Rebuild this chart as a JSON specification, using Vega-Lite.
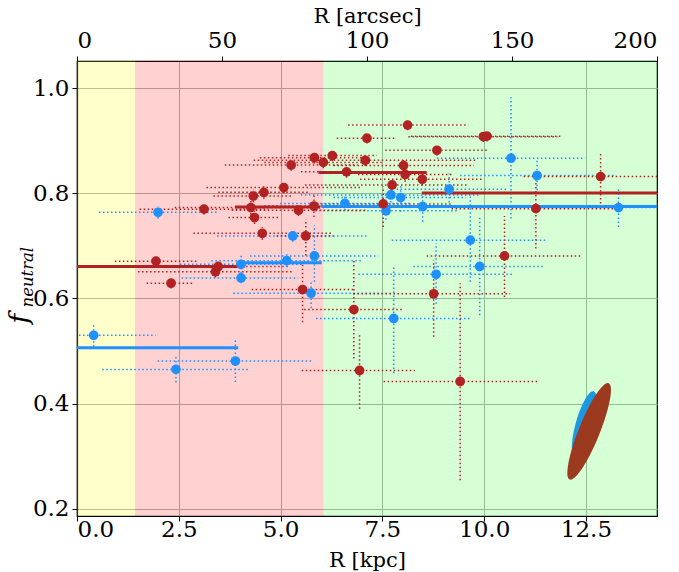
{
  "$schema": "https://vega.github.io/schema/vega-lite/v6.json",
  "width": 580,
  "height": 455,
  "autosize": {"type": "none"},
  "padding": {"left": 77, "top": 61, "right": 22, "bottom": 56},
  "background": "white",
  "config": {
    "font": "DejaVu Serif",
    "view": {"stroke": "black", "strokeWidth": 1.2},
    "axis": {
      "labelFont": "DejaVu Serif", "titleFont": "DejaVu Serif",
      "labelFontSize": 23, "titleFontSize": 21, "titleFontWeight": "normal",
      "labelColor": "black", "titleColor": "black", "tickColor": "black",
      "domainColor": "black", "domainWidth": 1.2, "tickSize": 5, "tickWidth": 1,
      "gridColor": "#b0b0b0", "gridWidth": 1, "gridOpacity": 1
    }
  },
  "datasets": {
    "bands": [
      {"a0": 0, "a1": 20, "zone": "inner"},
      {"a0": 20, "a1": 85, "zone": "mid"},
      {"a0": 85, "a1": 200, "zone": "outer"}
    ],
    "pts": [
      {"g": "blue", "x": 0.41, "y": 0.530, "x0": 0.05, "x1": 1.93, "y0": 0.508, "y1": 0.551},
      {"g": "blue", "x": 2.43, "y": 0.465, "x0": 0.62, "x1": 4.22, "y0": 0.440, "y1": 0.489},
      {"g": "blue", "x": 3.89, "y": 0.481, "x0": 1.98, "x1": 5.78, "y0": 0.441, "y1": 0.520},
      {"g": "blue", "x": 1.99, "y": 0.764, "x0": 0.54, "x1": 3.43, "y0": 0.752, "y1": 0.776},
      {"g": "blue", "x": 5.30, "y": 0.719, "x0": 3.44, "x1": 7.12, "y0": 0.708, "y1": 0.730},
      {"g": "blue", "x": 4.03, "y": 0.665, "x0": 2.53, "x1": 5.53, "y0": 0.648, "y1": 0.682},
      {"g": "blue", "x": 4.03, "y": 0.639, "x0": 2.57, "x1": 5.43, "y0": 0.629, "y1": 0.650},
      {"g": "blue", "x": 5.15, "y": 0.672, "x0": 3.30, "x1": 7.00, "y0": 0.660, "y1": 0.684},
      {"g": "blue", "x": 5.83, "y": 0.681, "x0": 4.25, "x1": 7.40, "y0": 0.632, "y1": 0.740},
      {"g": "blue", "x": 5.75, "y": 0.610, "x0": 3.84, "x1": 7.70, "y0": 0.582, "y1": 0.635},
      {"g": "blue", "x": 7.78, "y": 0.562, "x0": 5.87, "x1": 9.66, "y0": 0.458, "y1": 0.663},
      {"g": "blue", "x": 6.58, "y": 0.781, "x0": 4.99, "x1": 8.17, "y0": 0.768, "y1": 0.794},
      {"g": "blue", "x": 7.71, "y": 0.797, "x0": 5.50, "x1": 9.90, "y0": 0.775, "y1": 0.815},
      {"g": "blue", "x": 7.95, "y": 0.792, "x0": 6.30, "x1": 9.55, "y0": 0.765, "y1": 0.815},
      {"g": "blue", "x": 7.59, "y": 0.767, "x0": 5.85, "x1": 9.33, "y0": 0.750, "y1": 0.785},
      {"g": "blue", "x": 8.49, "y": 0.775, "x0": 6.60, "x1": 10.40, "y0": 0.746, "y1": 0.800},
      {"g": "blue", "x": 9.14, "y": 0.808, "x0": 7.85, "x1": 10.60, "y0": 0.775, "y1": 0.838},
      {"g": "blue", "x": 10.66, "y": 0.867, "x0": 8.84, "x1": 12.48, "y0": 0.752, "y1": 0.983},
      {"g": "blue", "x": 11.30, "y": 0.834, "x0": 9.41, "x1": 13.18, "y0": 0.806, "y1": 0.863},
      {"g": "blue", "x": 13.30, "y": 0.773, "x0": 11.30, "x1": 15.30, "y0": 0.736, "y1": 0.810},
      {"g": "blue", "x": 9.66, "y": 0.711, "x0": 7.73, "x1": 11.54, "y0": 0.632, "y1": 0.794},
      {"g": "blue", "x": 9.89, "y": 0.661, "x0": 8.26, "x1": 11.46, "y0": 0.568, "y1": 0.755},
      {"g": "blue", "x": 8.82, "y": 0.646, "x0": 6.91, "x1": 10.72, "y0": 0.590, "y1": 0.705},
      {"g": "red", "x": 1.94, "y": 0.671, "x0": 0.93, "x1": 2.94, "y0": 0.661, "y1": 0.681},
      {"g": "red", "x": 2.31, "y": 0.629, "x0": 1.71, "x1": 2.86, "y0": 0.619, "y1": 0.639},
      {"g": "red", "x": 3.12, "y": 0.770, "x0": 1.54, "x1": 4.70, "y0": 0.760, "y1": 0.780},
      {"g": "red", "x": 3.47, "y": 0.661, "x0": 1.60, "x1": 5.20, "y0": 0.650, "y1": 0.672},
      {"g": "red", "x": 3.40, "y": 0.651, "x0": 1.50, "x1": 5.30, "y0": 0.640, "y1": 0.662},
      {"g": "red", "x": 4.27, "y": 0.773, "x0": 2.40, "x1": 6.15, "y0": 0.760, "y1": 0.786},
      {"g": "red", "x": 4.33, "y": 0.795, "x0": 3.35, "x1": 5.30, "y0": 0.783, "y1": 0.807},
      {"g": "red", "x": 4.36, "y": 0.754, "x0": 3.72, "x1": 4.99, "y0": 0.742, "y1": 0.766},
      {"g": "red", "x": 4.55, "y": 0.724, "x0": 2.86, "x1": 6.29, "y0": 0.712, "y1": 0.736},
      {"g": "red", "x": 4.59, "y": 0.802, "x0": 3.47, "x1": 5.70, "y0": 0.790, "y1": 0.814},
      {"g": "red", "x": 5.08, "y": 0.811, "x0": 3.18, "x1": 6.98, "y0": 0.800, "y1": 0.822},
      {"g": "red", "x": 5.26, "y": 0.854, "x0": 3.63, "x1": 6.89, "y0": 0.843, "y1": 0.865},
      {"g": "red", "x": 5.44, "y": 0.768, "x0": 3.80, "x1": 7.10, "y0": 0.757, "y1": 0.779},
      {"g": "red", "x": 5.62, "y": 0.719, "x0": 4.90, "x1": 6.30, "y0": 0.682, "y1": 0.751},
      {"g": "red", "x": 5.54, "y": 0.617, "x0": 4.29, "x1": 6.79, "y0": 0.555, "y1": 0.670},
      {"g": "red", "x": 5.82, "y": 0.776, "x0": 4.60, "x1": 7.00, "y0": 0.755, "y1": 0.797},
      {"g": "red", "x": 5.83, "y": 0.868, "x0": 4.49, "x1": 7.20, "y0": 0.857, "y1": 0.879},
      {"g": "red", "x": 6.05, "y": 0.859, "x0": 4.60, "x1": 7.50, "y0": 0.848, "y1": 0.870},
      {"g": "red", "x": 6.27, "y": 0.872, "x0": 5.19, "x1": 7.36, "y0": 0.861, "y1": 0.883},
      {"g": "red", "x": 6.62, "y": 0.841, "x0": 5.50, "x1": 7.70, "y0": 0.830, "y1": 0.852},
      {"g": "red", "x": 7.08, "y": 0.863, "x0": 4.34, "x1": 9.80, "y0": 0.852, "y1": 0.874},
      {"g": "red", "x": 7.12, "y": 0.905, "x0": 6.38, "x1": 7.85, "y0": 0.895, "y1": 0.916},
      {"g": "red", "x": 8.12, "y": 0.930, "x0": 6.66, "x1": 9.61, "y0": 0.920, "y1": 0.940},
      {"g": "red", "x": 8.84, "y": 0.882, "x0": 7.57, "x1": 10.11, "y0": 0.872, "y1": 0.892},
      {"g": "red", "x": 8.02, "y": 0.853, "x0": 6.30, "x1": 9.75, "y0": 0.838, "y1": 0.868},
      {"g": "red", "x": 8.06, "y": 0.836, "x0": 6.90, "x1": 9.20, "y0": 0.822, "y1": 0.850},
      {"g": "red", "x": 8.48, "y": 0.827, "x0": 6.95, "x1": 9.98, "y0": 0.815, "y1": 0.840},
      {"g": "red", "x": 7.74, "y": 0.816, "x0": 5.60, "x1": 9.60, "y0": 0.805, "y1": 0.828},
      {"g": "red", "x": 7.52, "y": 0.780, "x0": 5.80, "x1": 9.20, "y0": 0.736, "y1": 0.813},
      {"g": "red", "x": 6.80, "y": 0.579, "x0": 5.58, "x1": 8.02, "y0": 0.486, "y1": 0.673},
      {"g": "red", "x": 6.94, "y": 0.463, "x0": 5.52, "x1": 8.30, "y0": 0.390, "y1": 0.533},
      {"g": "red", "x": 9.98, "y": 0.908, "x0": 8.14, "x1": 11.80, "y0": 0.898, "y1": 0.918},
      {"g": "red", "x": 10.07, "y": 0.909, "x0": 8.20, "x1": 11.87, "y0": 0.899, "y1": 0.919},
      {"g": "red", "x": 12.86, "y": 0.832, "x0": 10.97, "x1": 14.75, "y0": 0.781, "y1": 0.879},
      {"g": "red", "x": 11.27, "y": 0.771, "x0": 9.20, "x1": 13.30, "y0": 0.695, "y1": 0.832},
      {"g": "red", "x": 10.50, "y": 0.681, "x0": 8.59, "x1": 12.36, "y0": 0.603, "y1": 0.757},
      {"g": "red", "x": 8.76, "y": 0.609, "x0": 6.79, "x1": 10.64, "y0": 0.527, "y1": 0.673},
      {"g": "red", "x": 9.41, "y": 0.442, "x0": 7.53, "x1": 11.33, "y0": 0.254, "y1": 0.629}
    ],
    "means": [
      {"g": "blue", "x0": 0, "x1": 3.96, "y": 0.506},
      {"g": "blue", "x0": 3.92, "x1": 6.01, "y": 0.668},
      {"g": "blue", "x0": 6.00, "x1": 14.245, "y": 0.775},
      {"g": "red", "x0": 0, "x1": 3.96, "y": 0.661},
      {"g": "red", "x0": 3.88, "x1": 5.97, "y": 0.774},
      {"g": "red", "x0": 5.93, "x1": 8.59, "y": 0.840},
      {"g": "red", "x0": 8.47, "x1": 14.245, "y": 0.801}
    ]
  },
  "layer": [
    {
      "data": {"name": "bands"},
      "mark": {"type": "rect"},
      "encoding": {
        "x": {"field": "a0", "type": "quantitative",
              "scale": {"domain": [0, 200], "nice": false, "zero": false},
              "axis": {"orient": "top", "values": [0, 50, 100, 150, 200], "title": "R [arcsec]", "grid": false, "labelPadding": 4, "titlePadding": 3}},
        "x2": {"field": "a1"},
        "color": {"field": "zone", "type": "nominal", "scale": {"domain": ["inner", "mid", "outer"], "range": ["#ffff00", "#ff0000", "#00ff00"]}, "legend": null},
        "opacity": {"field": "zone", "type": "nominal", "scale": {"domain": ["inner", "mid", "outer"], "range": [0.2, 0.16, 0.12]}, "legend": null}
      }
    },
    {
      "layer": [
        {
          "data": {"name": "pts"},
          "mark": {"type": "rule", "strokeDash": [1.5, 2.5], "strokeWidth": 1.5, "clip": true},
          "encoding": {
            "x": {"field": "x0", "type": "quantitative", "scale": {"domain": [0, 14.245], "nice": false, "zero": false},
                  "axis": {"orient": "bottom", "values": [0, 2.5, 5, 7.5, 10, 12.5], "format": ".1f", "title": "R [kpc]", "grid": true, "labelPadding": -3, "titlePadding": 8}},
            "x2": {"field": "x1"},
            "y": {"field": "y", "type": "quantitative", "scale": {"domain": [0.186, 1.052], "nice": false, "zero": false},
                  "axis": {"orient": "left", "values": [0.2, 0.4, 0.6, 0.8, 1.0], "format": ".1f", "grid": true, "labelPadding": 3, "title": "f", "titleFontStyle": "italic", "titleFontSize": 26, "titleAngle": 270, "titleX": -50, "titleY": 262, "titleAlign": "left", "titleBaseline": "alphabetic"}},
            "color": {"field": "g", "type": "nominal", "scale": {"domain": ["blue", "red"], "range": ["#1E90FF", "#B22222"]}, "legend": null}
          }
        },
        {
          "data": {"name": "pts"},
          "mark": {"type": "rule", "strokeDash": [1.5, 2.5], "strokeWidth": 1.5, "clip": true},
          "encoding": {
            "x": {"field": "x", "type": "quantitative", "scale": {"domain": [0, 14.245], "nice": false, "zero": false},
                  "axis": {"orient": "bottom", "values": [0, 2.5, 5, 7.5, 10, 12.5], "format": ".1f", "title": "R [kpc]", "grid": true, "labelPadding": -3, "titlePadding": 8}},
            "y": {"field": "y0", "type": "quantitative", "scale": {"domain": [0.186, 1.052], "nice": false, "zero": false},
                  "axis": {"orient": "left", "values": [0.2, 0.4, 0.6, 0.8, 1.0], "format": ".1f", "grid": true, "labelPadding": 3, "title": "f", "titleFontStyle": "italic", "titleFontSize": 26, "titleAngle": 270, "titleX": -50, "titleY": 262, "titleAlign": "left", "titleBaseline": "alphabetic"}},
            "y2": {"field": "y1"},
            "color": {"field": "g", "type": "nominal", "scale": {"domain": ["blue", "red"], "range": ["#1E90FF", "#B22222"]}, "legend": null}
          }
        },
        {
          "data": {"name": "means"},
          "mark": {"type": "rule", "strokeWidth": 3, "clip": true},
          "encoding": {
            "x": {"field": "x0", "type": "quantitative", "scale": {"domain": [0, 14.245], "nice": false, "zero": false},
                  "axis": {"orient": "bottom", "values": [0, 2.5, 5, 7.5, 10, 12.5], "format": ".1f", "title": "R [kpc]", "grid": true, "labelPadding": -3, "titlePadding": 8}},
            "x2": {"field": "x1"},
            "y": {"field": "y", "type": "quantitative", "scale": {"domain": [0.186, 1.052], "nice": false, "zero": false},
                  "axis": {"orient": "left", "values": [0.2, 0.4, 0.6, 0.8, 1.0], "format": ".1f", "grid": true, "labelPadding": 3, "title": "f", "titleFontStyle": "italic", "titleFontSize": 26, "titleAngle": 270, "titleX": -50, "titleY": 262, "titleAlign": "left", "titleBaseline": "alphabetic"}},
            "color": {"field": "g", "type": "nominal", "scale": {"domain": ["blue", "red"], "range": ["#1E90FF", "#B22222"]}, "legend": null}
          }
        },
        {
          "data": {"name": "pts"},
          "mark": {"type": "circle", "size": 95, "opacity": 1},
          "encoding": {
            "x": {"field": "x", "type": "quantitative", "scale": {"domain": [0, 14.245], "nice": false, "zero": false},
                  "axis": {"orient": "bottom", "values": [0, 2.5, 5, 7.5, 10, 12.5], "format": ".1f", "title": "R [kpc]", "grid": true, "labelPadding": -3, "titlePadding": 8}},
            "y": {"field": "y", "type": "quantitative", "scale": {"domain": [0.186, 1.052], "nice": false, "zero": false},
                  "axis": {"orient": "left", "values": [0.2, 0.4, 0.6, 0.8, 1.0], "format": ".1f", "grid": true, "labelPadding": 3, "title": "f", "titleFontStyle": "italic", "titleFontSize": 26, "titleAngle": 270, "titleX": -50, "titleY": 262, "titleAlign": "left", "titleBaseline": "alphabetic"}},
            "color": {"field": "g", "type": "nominal", "scale": {"domain": ["blue", "red"], "range": ["#1E90FF", "#B22222"]}, "legend": null}
          }
        },
        {
          "data": {"values": [{"x": 12.46, "y": 0.361}]},
          "mark": {"type": "point", "shape": "M0,-1C0.138,-1,0.25,-0.552,0.25,0C0.25,0.552,0.138,1,0,1C-0.138,1,-0.25,0.552,-0.25,0C-0.25,-0.552,-0.138,-1,0,-1Z", "filled": true, "size": 4624, "angle": 16, "color": "#1b98e0", "opacity": 1, "strokeWidth": 0},
          "encoding": {
            "x": {"field": "x", "type": "quantitative", "scale": {"domain": [0, 14.245], "nice": false, "zero": false},
                  "axis": {"orient": "bottom", "values": [0, 2.5, 5, 7.5, 10, 12.5], "format": ".1f", "title": "R [kpc]", "grid": true, "labelPadding": -3, "titlePadding": 8}},
            "y": {"field": "y", "type": "quantitative", "scale": {"domain": [0.186, 1.052], "nice": false, "zero": false},
                  "axis": {"orient": "left", "values": [0.2, 0.4, 0.6, 0.8, 1.0], "format": ".1f", "grid": true, "labelPadding": 3, "title": "f", "titleFontStyle": "italic", "titleFontSize": 26, "titleAngle": 270, "titleX": -50, "titleY": 262, "titleAlign": "left", "titleBaseline": "alphabetic"}}
          }
        },
        {
          "data": {"values": [{"x": 12.58, "y": 0.347}]},
          "mark": {"type": "point", "shape": "M0,-1C0.112,-1,0.202,-0.552,0.202,0C0.202,0.552,0.112,1,0,1C-0.112,1,-0.202,0.552,-0.202,0C-0.202,-0.552,-0.112,-1,0,-1Z", "filled": true, "size": 10816, "angle": 22, "color": "#9b3a1f", "opacity": 1, "strokeWidth": 0},
          "encoding": {
            "x": {"field": "x", "type": "quantitative", "scale": {"domain": [0, 14.245], "nice": false, "zero": false},
                  "axis": {"orient": "bottom", "values": [0, 2.5, 5, 7.5, 10, 12.5], "format": ".1f", "title": "R [kpc]", "grid": true, "labelPadding": -3, "titlePadding": 8}},
            "y": {"field": "y", "type": "quantitative", "scale": {"domain": [0.186, 1.052], "nice": false, "zero": false},
                  "axis": {"orient": "left", "values": [0.2, 0.4, 0.6, 0.8, 1.0], "format": ".1f", "grid": true, "labelPadding": 3, "title": "f", "titleFontStyle": "italic", "titleFontSize": 26, "titleAngle": 270, "titleX": -50, "titleY": 262, "titleAlign": "left", "titleBaseline": "alphabetic"}}
          }
        }
      ]
    },
    {
      "data": {"values": [{"x": 1, "y": 0.5}]},
      "mark": {"type": "point", "opacity": 0},
      "encoding": {
        "x": {"field": "x", "type": "quantitative", "scale": {"domain": [0, 14.245], "nice": false, "zero": false}, "axis": null},
        "y": {"field": "y", "type": "quantitative", "scale": {"domain": [0.186, 1.052], "nice": false, "zero": false},
              "axis": {"orient": "left", "labels": false, "ticks": false, "domain": false, "grid": false, "title": "neutral", "titleFontStyle": "italic", "titleFontSize": 16.5, "titleAngle": 270, "titleX": -45, "titleY": 246, "titleAlign": "left", "titleBaseline": "alphabetic"}}
      }
    }
  ],
  "resolve": {"scale": {"x": "independent", "y": "independent", "color": "independent", "opacity": "independent"}}
}
